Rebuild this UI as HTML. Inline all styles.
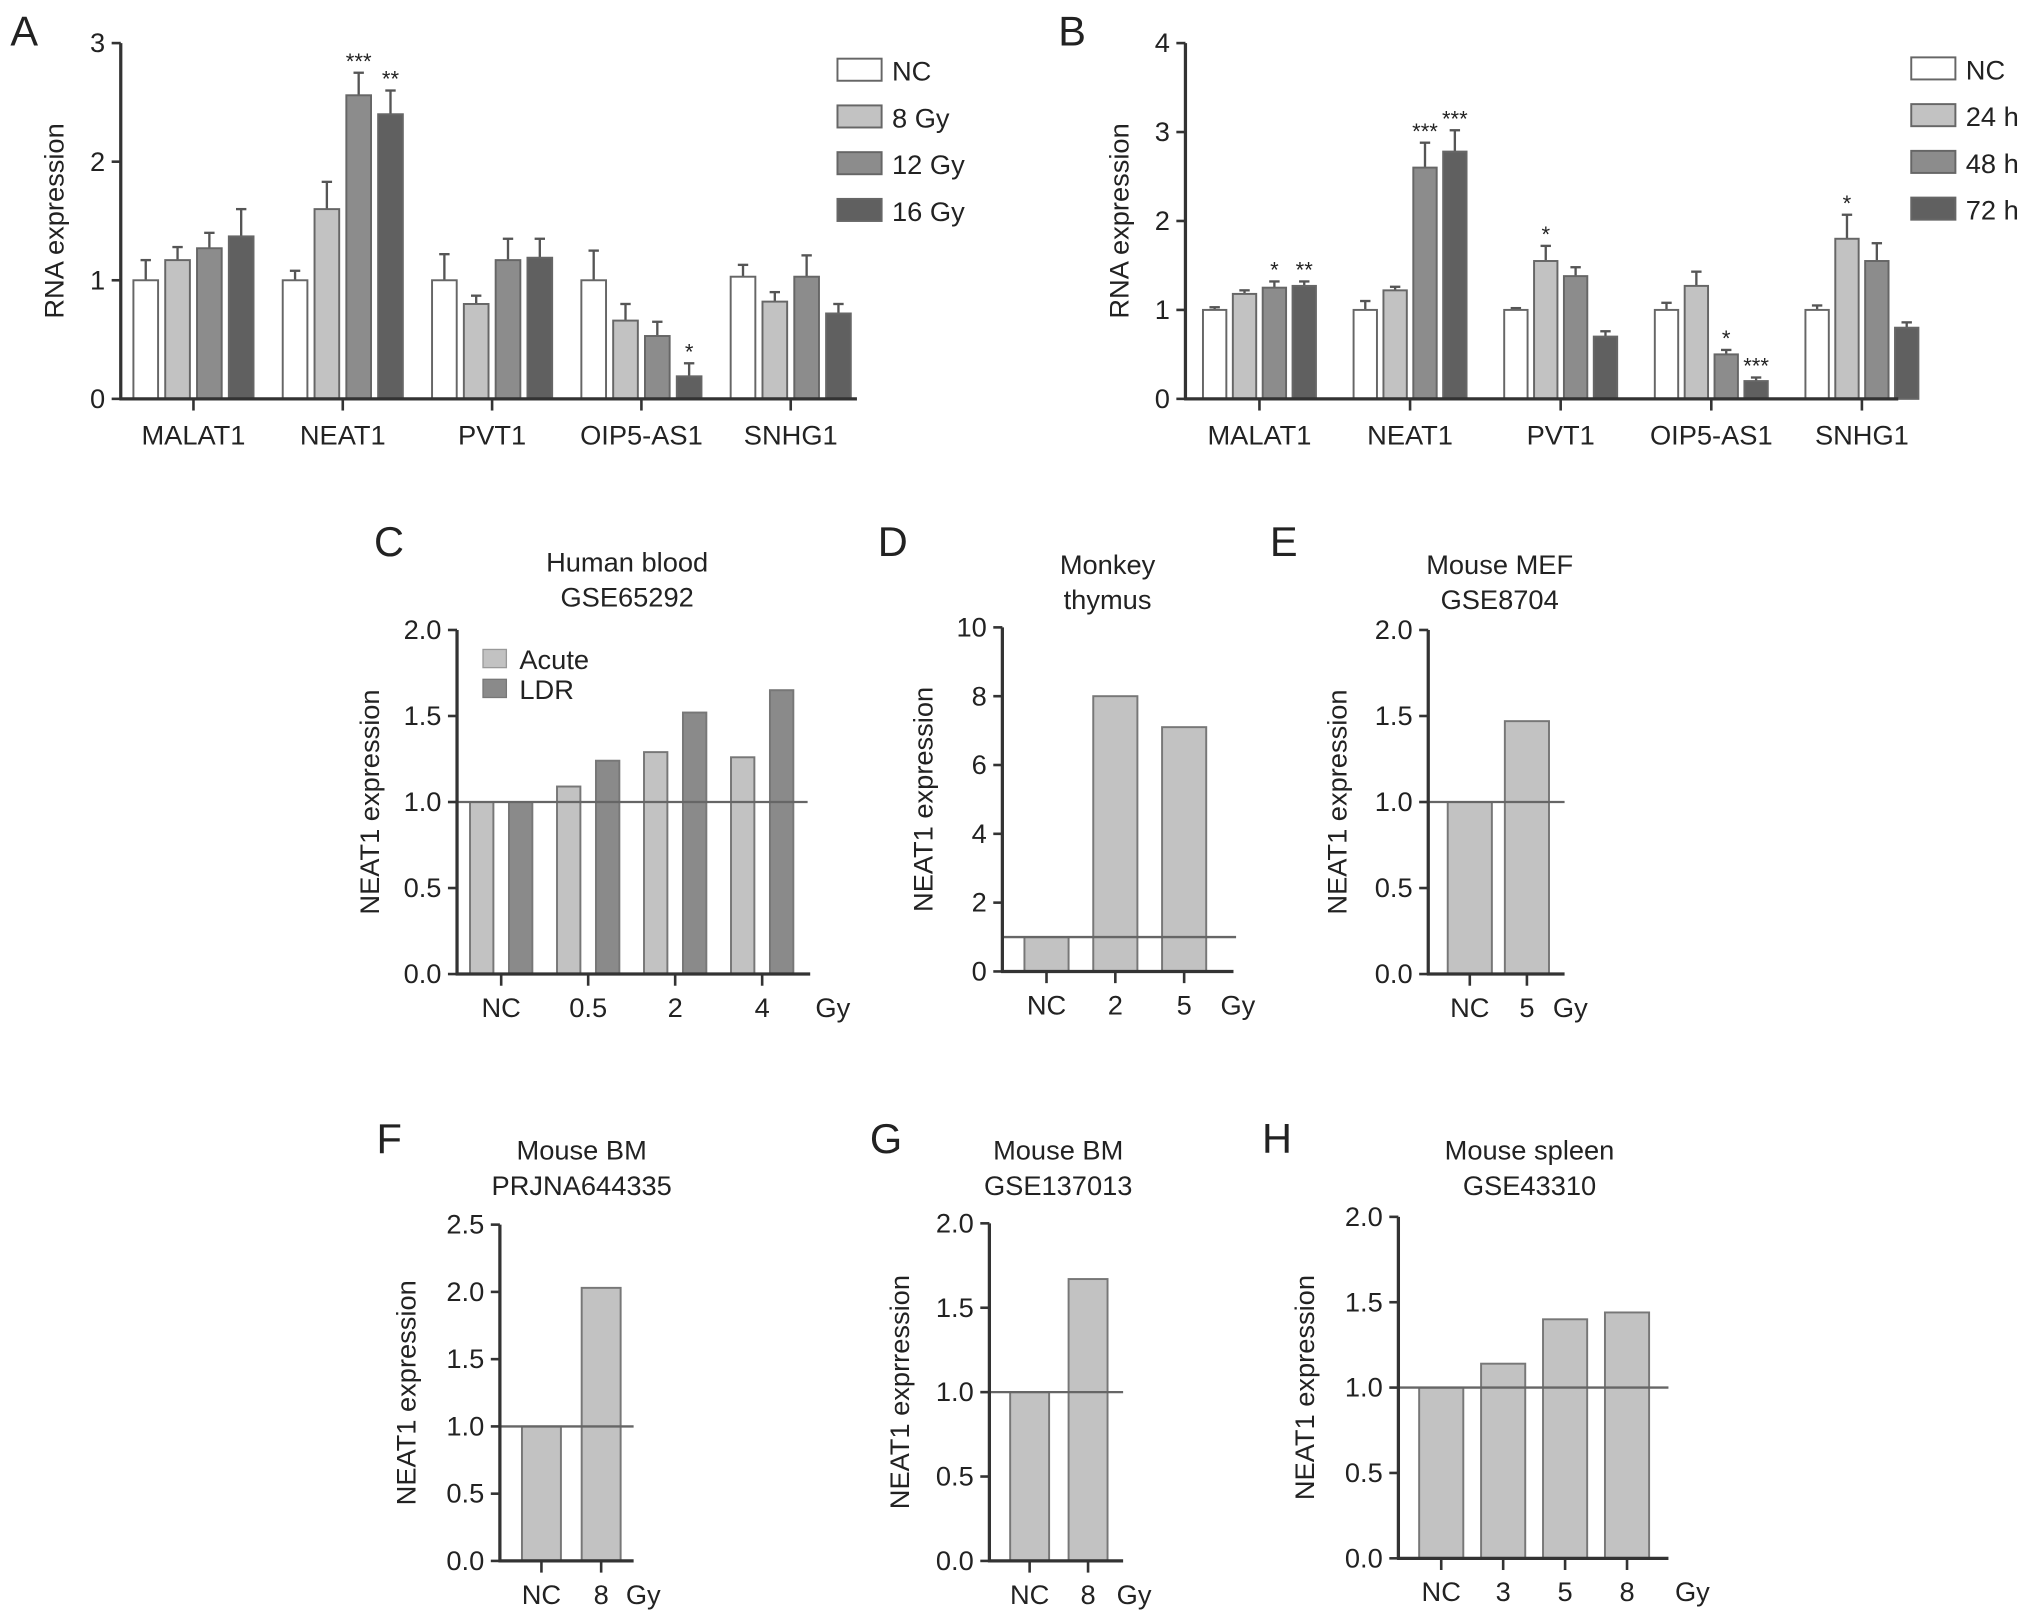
<!DOCTYPE html>
<html><head><meta charset="utf-8"><style>
html,body{margin:0;padding:0;background:#fff}
svg{display:block}
text{font-family:"Liberation Sans",Arial,sans-serif;fill:#222}
</style></head><body>
<svg id="fig" width="2032" height="1617" viewBox="0 0 1565 1245" xmlns="http://www.w3.org/2000/svg"></svg>
<script>
// ---------- Panel A data ----------
const aCategories = ["MALAT1","NEAT1","PVT1","OIP5-AS1","SNHG1"];
const aSeriesNames = ["NC","8 Gy","12 Gy","16 Gy"];
const aNC   = [1.00,1.00,1.00,1.00,1.03];
const a8Gy  = [1.17,1.60,0.80,0.66,0.82];
const a12Gy = [1.27,2.56,1.17,0.53,1.03];
const a16Gy = [1.37,2.40,1.19,0.19,0.72];
const aErrNC   = [1.17,1.08,1.22,1.25,1.13];
const aErr8Gy  = [1.28,1.83,0.87,0.80,0.90];
const aErr12Gy = [1.40,2.75,1.35,0.65,1.21];
const aErr16Gy = [1.60,2.60,1.35,0.30,0.80];
const aStars = [["","","",""],["","","***","**"],["","","",""],["","","","*"],["","","",""]];
const aTicks = [0,1,2,3];
// ---------- Panel B data ----------
const bCategories = ["MALAT1","NEAT1","PVT1","OIP5-AS1","SNHG1"];
const bSeriesNames = ["NC","24 h","48 h","72 h"];
const bNC  = [1.00,1.00,1.00,1.00,1.00];
const b24h = [1.18,1.22,1.55,1.27,1.80];
const b48h = [1.25,2.60,1.38,0.50,1.55];
const b72h = [1.27,2.78,0.70,0.20,0.80];
const bErrNC  = [1.03,1.10,1.02,1.08,1.05];
const bErr24h = [1.22,1.26,1.72,1.43,2.07];
const bErr48h = [1.32,2.88,1.48,0.55,1.75];
const bErr72h = [1.32,3.02,0.76,0.24,0.86];
const bStars = [["","","*","**"],["","","***","***"],["","*","",""],["","","*","***"],["","*","",""]];
const bTicks = [0,1,2,3,4];
// ---------- Panels C-H data ----------
const cCategories = ["NC","0.5","2","4"];
const cAcute = [1.00,1.09,1.29,1.26];
const cLDR   = [1.00,1.24,1.52,1.65];
const cTicks = ["0.0","0.5","1.0","1.5","2.0"];
const dCategories = ["NC","2","5"];
const dValues = [1.0,8.0,7.1];
const dTicks = ["0","2","4","6","8","10"];
const eCategories = ["NC","5"];
const eValues = [1.0,1.47];
const eTicks = ["0.0","0.5","1.0","1.5","2.0"];
const fCategories = ["NC","8"];
const fValues = [1.0,2.03];
const fTicks = ["0.0","0.5","1.0","1.5","2.0","2.5"];
const gCategories = ["NC","8"];
const gValues = [1.0,1.67];
const gTicks = ["0.0","0.5","1.0","1.5","2.0"];
const hCategories = ["NC","3","5","8"];
const hValues = [1.0,1.14,1.40,1.44];
const hTicks = ["0.0","0.5","1.0","1.5","2.0"];

const NS="http://www.w3.org/2000/svg";
const svg=document.getElementById('fig');
function el(tag,attrs,parent,txt){const e=document.createElementNS(NS,tag);for(const k in attrs)e.setAttribute(k,attrs[k]);if(txt!==undefined)e.textContent=txt;(parent||svg).appendChild(e);return e;}
const AX='#333', FILLS=['#ffffff','#c2c2c2','#8c8c8c','#606060'];
const FS=21;

function groupedPanel(id,letter,lx,ly,x0,x1,y0,yTop,vmax,ticks,cats,series,errs,stars,names,legX,legY,catX0,catStep,barW,pitch){
  const g=el('g',{});
  
  
  const ys=v=>y0-(v/vmax)*(y0-yTop);
  const t=el('text',{x:lx,y:ly,'font-size':32},g,letter);
  
  cats.forEach((c,i)=>{
    const cx=catX0+i*catStep;
    series.forEach((s,j)=>{
      const bx=cx+(j-1.5)*pitch-barW/2;
      const et=ys(errs[j][i]);
      const eb=el('line',{x1:bx+barW/2,x2:bx+barW/2,y1:et,y2:ys(s[i]),stroke:'#555','stroke-width':1.8},g);
      
      const cap=el('line',{x1:bx+barW/2-4,x2:bx+barW/2+4,y1:et,y2:et,stroke:'#555','stroke-width':1.8},g);
      
      const r=el('rect',{x:bx,y:ys(s[i]),width:barW,height:y0-ys(s[i]),fill:FILLS[j],stroke:'#666','stroke-width':1.5},g);
      
      if(stars[i][j]){const st=el('text',{x:bx+barW/2,y:et-3,'font-size':17,'text-anchor':'middle'},g,stars[i][j]);
        }
    });
    const tk=el('line',{x1:cx,x2:cx,y1:y0,y2:y0+9,stroke:AX,'stroke-width':2},g);
    
    const tl=el('text',{x:cx,y:y0+35,'font-size':FS,'text-anchor':'middle'},g,c);
    
  });
  const ya=el('line',{x1:x0,x2:x0,y1:yTop,y2:y0+1,stroke:AX,'stroke-width':2.5},g);
  
  const xa=el('line',{x1:x0-1,x2:x1,y1:y0,y2:y0,stroke:AX,'stroke-width':2.5},g);
  
  ticks.forEach(v=>{const y=ys(v);
    const tk=el('line',{x1:x0-7,x2:x0,y1:y,y2:y,stroke:AX,'stroke-width':2},g);
    
    const tl=el('text',{x:x0-12,y:y+7,'font-size':FS,'text-anchor':'end'},g,String(v));
    });
  const yl=el('text',{x:0,y:0,'font-size':FS,'text-anchor':'middle',transform:`translate(${x0-44},${(y0+yTop)/2}) rotate(-90)`},g,'RNA expression');
  
  names.forEach((n,j)=>{
    const r=el('rect',{x:legX,y:legY+j*36,width:34,height:17,fill:FILLS[j],stroke:'#666','stroke-width':1.5},g);
    
    const tx=el('text',{x:legX+42,y:legY+j*36+17,'font-size':FS},g,n);
    
  });
}
groupedPanel('a','A',8,35,93,660,307,33,3,aTicks,aCategories,[aNC,a8Gy,a12Gy,a16Gy],[aErrNC,aErr8Gy,aErr12Gy,aErr16Gy],aStars,aSeriesNames,645,45,149,115,19,24.5);
groupedPanel('b','B',815,35,913,1462,307,33,4,bTicks,bCategories,[bNC,b24h,b48h,b72h],[bErrNC,bErr24h,bErr48h,bErr72h],bStars,bSeriesNames,1472,44,970,116,18,23);

function simplePanel(id,letter,lx,ly,title1,title2,tx,ty,x0,x1,y0,yTop,vmax,ticks,cats,seriesList,fills,catX0,catStep,barW,offsets,lineEnd,gyX,ylabel){
  const g=el('g',{});
  
  
  const ys=v=>y0-(v/vmax)*(y0-yTop);
  const t=el('text',{x:lx,y:ly,'font-size':32},g,letter);
  
  const t1=el('text',{x:tx,y:ty,'font-size':FS,'text-anchor':'middle'},g,title1);
  
  const t2=el('text',{x:tx,y:ty+27,'font-size':FS,'text-anchor':'middle'},g,title2);
  
  cats.forEach((c,i)=>{
    const cx=catX0+i*catStep;
    seriesList.forEach((s,j)=>{
      const bx=cx+offsets[j]-barW/2;
      const r=el('rect',{x:bx,y:ys(s[i]),width:barW,height:y0-ys(s[i]),fill:fills[j],stroke:'#777','stroke-width':1.5},g);
      
    });
    const tk=el('line',{x1:cx,x2:cx,y1:y0,y2:y0+9,stroke:AX,'stroke-width':2},g);
    
    const tl=el('text',{x:cx,y:y0+33,'font-size':FS,'text-anchor':'middle'},g,c);
    
  });
  const gy=el('text',{x:gyX,y:y0+33,'font-size':FS},g,'Gy');
  
  const ref=el('line',{x1:x0,x2:lineEnd,y1:ys(1),y2:ys(1),stroke:'#666','stroke-width':1.8},g);
  
  const ya=el('line',{x1:x0,x2:x0,y1:yTop,y2:y0+1,stroke:AX,'stroke-width':2.5},g);
  
  const xa=el('line',{x1:x0-1,x2:x1,y1:y0,y2:y0,stroke:AX,'stroke-width':2.5},g);
  
  ticks.forEach(lbl=>{const y=ys(parseFloat(lbl));
    const tk=el('line',{x1:x0-7,x2:x0,y1:y,y2:y,stroke:AX,'stroke-width':2},g);
    
    const tl=el('text',{x:x0-12,y:y+7,'font-size':FS,'text-anchor':'end'},g,lbl);
    });
  const yl=el('text',{x:0,y:0,'font-size':FS,'text-anchor':'middle',transform:`translate(${ylabel},${(y0+yTop)/2}) rotate(-90)`},g,id==='g'?'NEAT1 exprression':'NEAT1 expression');
  
  return g;
}
const L='#c2c2c2', D='#8a8a8a';
const gc=simplePanel('c','C',288,428,'Human blood','GSE65292',483,440,352,624,750,485,2,cTicks,cCategories,[cAcute,cLDR],[L,D],386,67,18,[-15,15],622,628,292);
const la=el('rect',{x:372,y:500,width:18,height:14,fill:L,stroke:'#999'},gc);

const lat=el('text',{x:400,y:515,'font-size':FS},gc,'Acute');

const ld=el('rect',{x:372,y:523,width:18,height:14,fill:D,stroke:'#777'},gc);

const ldt=el('text',{x:400,y:538,'font-size':FS},gc,'LDR');


simplePanel('d','D',676,428,'Monkey','thymus',853,442,772,950,748,483,10,dTicks,dCategories,[dValues],[L],806,53,34,[0],952,940,718);
simplePanel('e','E',978,428,'Mouse MEF','GSE8704',1155,442,1100,1205,750,485,2,eTicks,eCategories,[eValues],[L],1132,44,34,[0],1205,1196,1037);
simplePanel('f','F',290,888,'Mouse BM','PRJNA644335',448,893,385,488,1202,943,2.5,fTicks,fCategories,[fValues],[L],417,46,30,[0],488,482,320);
simplePanel('g','G',670,888,'Mouse BM','GSE137013',815,893,762,865,1202,942,2,gTicks,gCategories,[gValues],[L],793,45,30,[0],865,860,700);
simplePanel('h','H',972,888,'Mouse spleen','GSE43310',1178,893,1077,1285,1200,937,2,hTicks,hCategories,[hValues],[L],1110,47.7,34,[0],1285,1290,1012);
</script>
</body></html>
